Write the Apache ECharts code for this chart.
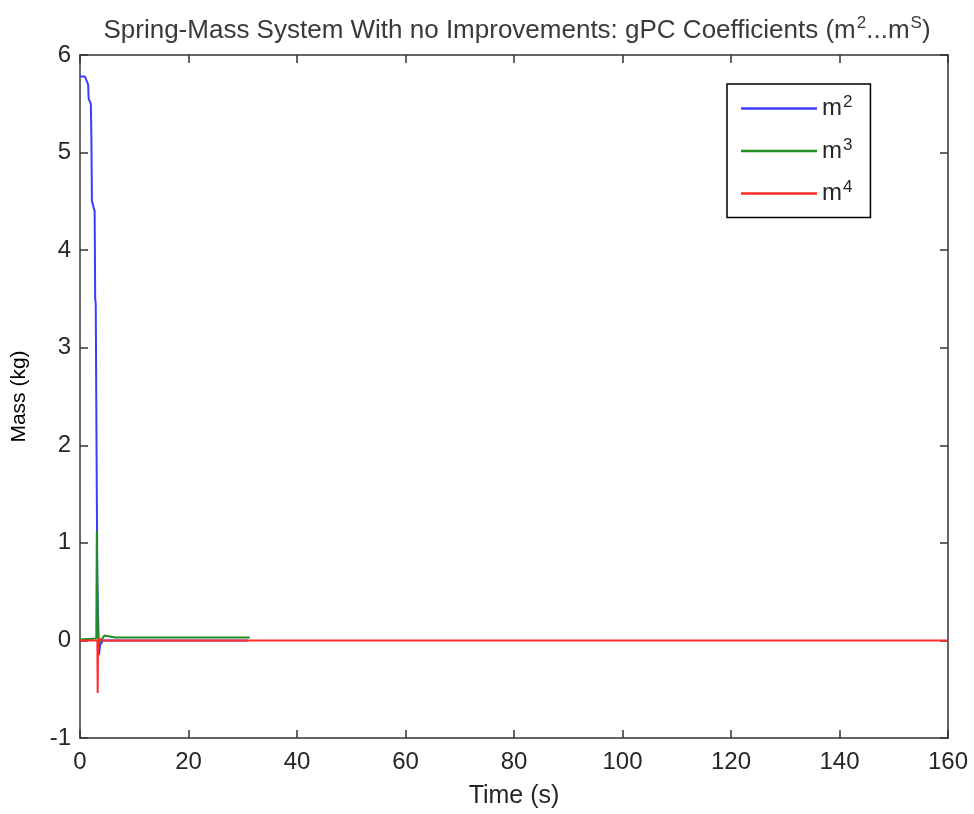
<!DOCTYPE html>
<html>
<head>
<meta charset="utf-8">
<title>Spring-Mass System gPC Coefficients</title>
<script src="https://cdn.jsdelivr.net/npm/echarts@6/dist/echarts.min.js"></script>
<style>
  html, body { margin: 0; padding: 0; background: #fff; }
  #chart { width: 974px; height: 814px; }
</style>
</head>
<body>
<div id="chart"></div>
<script>
// values: [time (s), mass (kg)]
const seriesNames = ['m2', 'm3', 'm4']
const m2Values = [
  [0, 5.78], [0.9, 5.78], [1.2, 5.76], [1.5, 5.7], [1.6, 5.55], [2.0, 5.5],
  [2.1, 5.15], [2.2, 4.5], [2.7, 4.4], [2.8, 3.5], [2.9, 3.45], [3.1, 1.5],
  [3.2, 0.6], [3.35, 0.2], [3.5, -0.15], [3.7, -0.05], [4.2, 0], [31, 0]
]
const m3Values = [
  [0, 0.01], [3.0, 0.02], [3.1, 1.12], [3.2, 0.5], [3.3, 0.05], [3.6, -0.02],
  [4.5, 0.05], [5.5, 0.04], [6.5, 0.03], [31.3, 0.03]
]
const m4Values = [
  [0, 0], [3.2, 0], [3.26, -0.54], [3.32, -0.1], [3.5, 0.02], [4, 0], [160, 0]
]
const xTicks = { min: 0, max: 160, interval: 20 }
const yTicks = { min: -1, max: 6, interval: 1 }

const font = '"Liberation Sans", Arial, sans-serif'
const axisColor = '#333'
const textColor = '#262626'
const colors = ['#3c3cff', '#1f8f1f', '#ff2a2a']
const supText = {
  m: { fontSize: 24, fontFamily: font, color: textColor, lineHeight: 28 },
  s: { fontSize: 17, fontFamily: font, color: textColor, verticalAlign: 'top', padding: [0, 0, 12, 1] }
}

function baseAxis (ticks, extra) {
  return Object.assign({
    type: 'value',
    min: ticks.min,
    max: ticks.max,
    interval: ticks.interval,
    splitLine: { show: false },
    axisLine: { show: true, onZero: false, lineStyle: { color: axisColor, width: 1.5 } },
    axisTick: { show: true, inside: true, length: 8, lineStyle: { color: axisColor, width: 1.5 } }
  }, extra)
}

let myechart = echarts.init(document.getElementById('chart'))
myechart.setOption({
  animation: false,
  backgroundColor: '#fff',
  title: {
    text: '{t|Spring-Mass System With no Improvements: gPC Coefficients (m}{s|2}{t|...m}{s|S}{t|)}',
    left: 512,
    textAlign: 'center',
    top: 10,
    textStyle: {
      rich: {
        t: { fontSize: 26, fontFamily: font, fontWeight: 'normal', color: '#3a3a3a' },
        s: { fontSize: 17, fontFamily: font, fontWeight: 'normal', color: '#3a3a3a', verticalAlign: 'top', padding: [0, 0, 14, 1] }
      }
    }
  },
  grid: { left: 80, right: 26, top: 55, bottom: 76 },
  legend: {
    orient: 'vertical',
    left: 727,
    top: 84,
    width: 141,
    backgroundColor: '#fff',
    borderColor: '#000',
    borderWidth: 1.5,
    borderRadius: 0,
    padding: [10, 18, 12, 14],
    itemGap: 16,
    itemWidth: 76,
    itemHeight: 2.5,
    icon: 'rect',
    data: seriesNames,
    formatter: name => '{m|m}{s|' + name.slice(1) + '}',
    textStyle: { rich: supText }
  },
  xAxis: [
    baseAxis(xTicks, {
      position: 'bottom',
      name: 'Time (s)',
      nameLocation: 'middle',
      nameGap: 46,
      nameTextStyle: { fontSize: 25, fontFamily: font, color: textColor },
      axisLabel: { fontSize: 24, fontFamily: font, color: textColor, margin: 12 }
    }),
    baseAxis(xTicks, { position: 'top', axisLabel: { show: false } })
  ],
  yAxis: [
    baseAxis(yTicks, {
      position: 'left',
      name: 'Mass (kg)',
      nameLocation: 'middle',
      nameGap: 50,
      nameTextStyle: { fontSize: 21, fontFamily: font, color: '#000' },
      axisLabel: { fontSize: 24, fontFamily: font, color: textColor, margin: 9 }
    }),
    baseAxis(yTicks, { position: 'right', axisLabel: { show: false } })
  ],
  series: [
    { name: 'm2', type: 'line', data: m2Values, showSymbol: false, color: colors[0], lineStyle: { width: 2 } },
    { name: 'm3', type: 'line', data: m3Values, showSymbol: false, color: colors[1], lineStyle: { width: 2 } },
    { name: 'm4', type: 'line', data: m4Values, showSymbol: false, color: colors[2], lineStyle: { width: 2 } }
  ]
})
window.addEventListener('resize', () => myechart.resize())
</script>
</body>
</html>
